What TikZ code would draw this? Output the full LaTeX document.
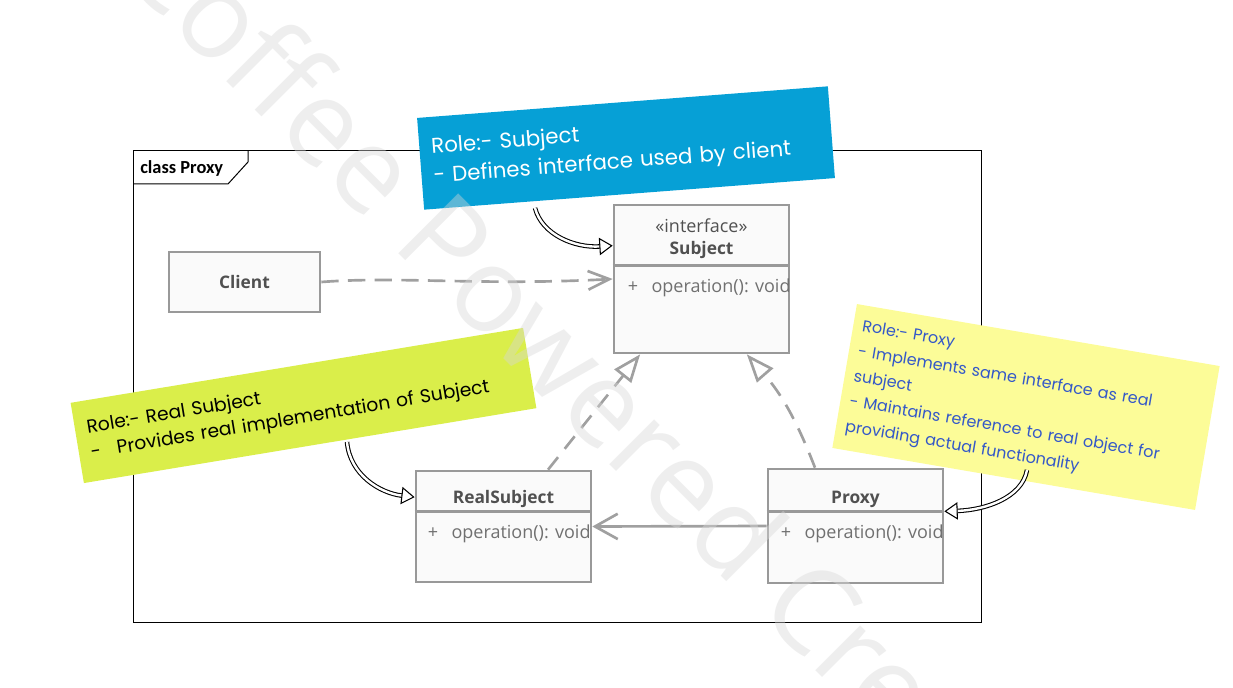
\documentclass[tikz,border=0pt]{standalone}
\usepackage{fontspec}
\setmainfont{Open Sans}
\newfontfamily\framefont{Carlito}
\newfontfamily\handfont{Poppins}
\usetikzlibrary{arrows.meta,positioning}
\definecolor{boxgray}{RGB}{153,153,153}
\definecolor{boxfill}{RGB}{250,250,250}
\definecolor{txtgray}{RGB}{80,80,80}
\definecolor{attrgray}{RGB}{112,112,112}
\definecolor{linkgray}{RGB}{160,160,160}
\definecolor{noteblue}{RGB}{6,160,214}
\definecolor{notegreen}{RGB}{218,238,74}
\definecolor{noteyellow}{RGB}{252,252,152}
\definecolor{penblue}{RGB}{52,88,200}
\definecolor{wmgray}{RGB}{215,215,215}
\tikzset{
umlbox/.style={draw=boxgray, fill=boxfill, line width=2pt, rectangle},
umlline/.style={draw=boxgray, line width=2pt},
clsname/.style={font=\bfseries\fontsize{13}{15}\selectfont, text=txtgray, inner sep=0pt},
stereo/.style={font=\fontsize{13.5}{15}\selectfont, text=txtgray, inner sep=0pt},
attr/.style={font=\fontsize{13.5}{15}\selectfont, text=attrgray, inner sep=0pt, anchor=west},
frameline/.style={draw=black, line width=0.75pt},
frametitle/.style={font=\framefont\bfseries\fontsize{13.8}{15}\selectfont, inner sep=0pt}
}
\tikzset{
depend/.style={draw=linkgray, line width=2pt, dash pattern=on 13pt off 7pt,
  -{Straight Barb[length=16pt,width=14pt]}},
realize/.style={draw=linkgray, line width=2pt, dash pattern=on 12pt off 8pt,
  -{Triangle[length=21pt,width=16pt,fill=white]}},
assoc/.style={draw=linkgray, line width=2pt, -{Straight Barb[length=17pt,width=19pt]}},
note/.style={rectangle, inner xsep=9pt, align=left},
notearrow/.style={draw=black, line width=0.8pt, double=white, double distance=1.8pt,
  -{Triangle[length=10pt,width=13pt,fill=white]}},
watermark/.style={font=\fontsize{89}{100}\selectfont, text=wmgray, text opacity=0.42, inner sep=0pt}
}
\begin{document}
\begin{tikzpicture}[x=0.75pt,y=-0.75pt]
\useasboundingbox (0,0) rectangle (1233,688);

% frame
\draw[frameline] (133,151) rectangle (981,622);
\draw[frameline] (133,184) -- (228,184) -- (248,162) -- (248,151);
\node[frametitle, anchor=west] (ftitle) at (140,168) {class Proxy};

% classes
\node[umlbox, clsname, minimum width=113.25pt, minimum height=45pt] (clnt) at (244.5,282) {Client};

\node[umlbox, minimum width=131.25pt, minimum height=111pt] (subj) at (701.5,279) {};
\node[stereo] (subj-st) at ([yshift=-16.5pt]subj.north) {«interface»};
\node[clsname] (subj-nm) at ([yshift=-34.5pt]subj.north) {Subject};
\draw[umlline] ([yshift=-46.5pt]subj.north west) -- ([yshift=-46.5pt]subj.north east);
\node[attr] (subj-op) at ([xshift=11.25pt,yshift=-63pt]subj.north west) {+\hspace{10pt}operation(): void};

\node[umlbox, minimum width=131.25pt, minimum height=83.25pt] (real) at (503.5,526.5) {};
\node[clsname] (real-nm) at ([yshift=-22pt]real.north) {RealSubject};
\draw[umlline] ([yshift=-31.5pt]real.north west) -- ([yshift=-31.5pt]real.north east);
\node[attr] (real-op) at ([xshift=9.75pt,yshift=-48pt]real.north west) {+\hspace{10pt}operation(): void};

\node[umlbox, minimum width=131.25pt, minimum height=85.5pt] (prox) at (855.5,526) {};
\node[clsname] (prox-nm) at ([yshift=-23.5pt]prox.north) {Proxy};
\draw[umlline] ([yshift=-33pt]prox.north west) -- ([yshift=-33pt]prox.north east);
\node[attr] (prox-op) at ([xshift=10.5pt,yshift=-49.5pt]prox.north west) {+\hspace{10pt}operation(): void};

% relations
\draw[depend] (clnt.east) .. controls (400,276) and (480,286) .. (subj.west);
\draw[realize] ([xshift=33.4pt]real.north) -- ([xshift=-46pt]subj.south);
\draw[realize] ([xshift=-30.4pt]prox.north) to[bend right=10] ([xshift=34pt]subj.south);
\draw[assoc] (prox.west) -- (real.east);

% notes
\node[note, fill=noteblue, text=white, rotate=4.4, text width=291pt, minimum height=69pt,
  font=\handfont\fontsize{16}{22}\selectfont] (nsubj) at (626,148)
  {Role:- Subject\\- Defines interface used by client};
\node[note, fill=notegreen, text=black, rotate=9.4, text width=326pt, minimum height=61pt,
  font=\handfont\fontsize{14}{19}\selectfont] (nreal) at (303.5,405.5)
  {Role:- Real Subject\\-\hspace{12pt}Provides real implementation of Subject};
\node[note, fill=noteyellow, text=penblue, rotate=-9.7, inner xsep=7pt, text width=262pt,
  minimum height=109.5pt, font=\handfont\fontsize{12}{19}\selectfont] (nprox) at (1026,407)
  {Role:- Proxy\\- Implements same interface as real\\subject\\- Maintains reference to real object for\\providing actual functionality};

% note pointers
\coordinate (nsubj-tail) at (535,208);
\coordinate (nreal-tail) at (347,442);
\coordinate (nprox-tail) at (1027,470);
\draw[notearrow] (nsubj-tail) .. controls (542,235) and (575,248) .. ([yshift=25pt]subj.west);
\draw[notearrow] (nreal-tail) .. controls (350,475) and (380,493) .. ([yshift=22pt]real.west);
\draw[notearrow] (nprox-tail) .. controls (1022,498) and (985,510) .. ([yshift=11pt]prox.east);

% watermark
\node[watermark, anchor=base west, rotate=-45] (wmark) at (114,-31) {Coffee Powered Cre};
\end{tikzpicture}
\end{document}
